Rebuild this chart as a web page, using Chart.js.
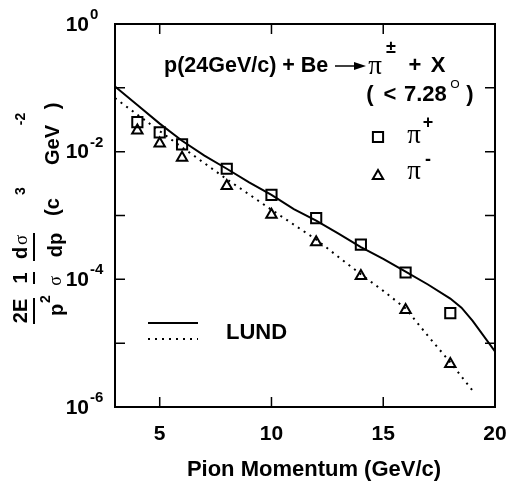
<!DOCTYPE html>
<html>
<head>
<meta charset="utf-8">
<script src="https://cdn.jsdelivr.net/npm/chart.js@4.4.1/dist/chart.umd.min.js"></script>
<style>
  html, body { margin: 0; padding: 0; background: #fff; }
  #wrap { width: 507px; height: 481px; }
</style>
</head>
<body>
<div id="wrap"><canvas id="c" width="507" height="481"></canvas></div>
<script>
// measured points (GeV/c, invariant cross section)
const momentum = [4, 5, 6, 8, 10, 12, 14, 16, 18]
const piPlus = [2.9e-2, 2.0e-2, 1.3e-2, 5.4e-3, 2.1e-3, 9.1e-4, 3.5e-4, 1.28e-4, 2.95e-5]
const piMinus = [2.15e-2, 1.34e-2, 8.0e-3, 2.9e-3, 1.03e-3, 3.8e-4, 1.13e-4, 3.3e-5, 4.7e-6]

// LUND curves
const lundPlusX = [3, 4, 5, 6, 7, 8, 9, 10, 11, 12, 13, 14, 15, 16, 17, 18, 18.5, 19, 20]
const lundPlus = [1.05e-1, 5.4e-2, 2.75e-2, 1.48e-2, 8.7e-3, 5.4e-3, 3.3e-3, 2.1e-3, 1.26e-3, 8.3e-4,
    5.2e-4, 3.2e-4, 2.1e-4, 1.32e-4, 8.3e-5, 5.0e-5, 3.6e-5, 2.24e-5, 7.4e-6]
const lundMinusX = [3, 4, 5, 6, 7, 8, 9, 10, 11, 12, 13, 14, 15, 16, 17, 18, 19]
const lundMinus = [6.9e-2, 3.8e-2, 2.1e-2, 1.17e-2, 6.6e-3, 3.7e-3, 2.14e-3, 1.23e-3, 7.2e-4, 4.2e-4,
    2.24e-4, 1.2e-4, 6.6e-5, 3.5e-5, 1.3e-5, 5.0e-6, 1.8e-6]

const xTicks = [5, 10, 15, 20]
const yDecades = [0, -1, -2, -3, -4, -5, -6]
const yLabelDecades = [0, -2, -4, -6]

const SANS = '"Liberation Sans", Arial, sans-serif'
const SERIF = '"Liberation Serif", "DejaVu Serif", serif'
const BOLD = 'bold 22px ' + SANS

const pts = (xs, ys) => xs.map((x, i) => ({ x, y: ys[i] }))

function txt(ctx, s, x, y, font, align = 'center') {
    ctx.font = font
    ctx.textAlign = align
    ctx.textBaseline = 'middle'
    ctx.fillText(s, x, y)
}

// rotated text, centred at screen point (x, y), reading upward
function rtxt(ctx, s, x, y, font) {
    ctx.save()
    ctx.translate(x, y)
    ctx.rotate(-Math.PI / 2)
    txt(ctx, s, 0, 0, font)
    ctx.restore()
}

const decorations = {
    id: 'decorations',
    afterDraw(chart) {
        const { ctx, chartArea: a, scales: { x, y } } = chart
        ctx.save()
        ctx.fillStyle = '#000'
        ctx.strokeStyle = '#000'

        // frame
        ctx.lineWidth = 2
        ctx.strokeRect(a.left, a.top, a.right - a.left, a.bottom - a.top)

        // inward ticks
        ctx.lineWidth = 1.5
        ctx.beginPath()
        xTicks.forEach(v => {
            const px = x.getPixelForValue(v)
            ctx.moveTo(px, a.bottom); ctx.lineTo(px, a.bottom - 10)
            ctx.moveTo(px, a.top); ctx.lineTo(px, a.top + 10)
        })
        yDecades.forEach(d => {
            const py = y.getPixelForValue(Math.pow(10, d))
            ctx.moveTo(a.left, py); ctx.lineTo(a.left + 10, py)
            ctx.moveTo(a.right, py); ctx.lineTo(a.right - 10, py)
        })
        ctx.stroke()

        // tick labels
        xTicks.forEach(v => txt(ctx, String(v), x.getPixelForValue(v), 434, 'bold 21px ' + SANS))
        yLabelDecades.forEach(d => {
            const py = y.getPixelForValue(Math.pow(10, d))
            txt(ctx, '10', 89, py + 1, 'bold 21px ' + SANS, 'right')
            txt(ctx, String(d), 90, py - 9, 'bold 15px ' + SANS, 'left')
        })

        // x title
        txt(ctx, 'Pion Momentum (GeV/c)', 314, 470, BOLD)

        // y title
        const f18 = 'bold 20px ' + SANS
        const f13 = 'bold 14px ' + SANS
        ctx.lineWidth = 2
        ctx.beginPath()
        ctx.moveTo(34, 298); ctx.lineTo(34, 324)
        ctx.moveTo(34, 272); ctx.lineTo(34, 284)
        ctx.moveTo(34, 233); ctx.lineTo(34, 261)
        ctx.stroke()
        rtxt(ctx, '2E', 21, 311, f18)
        rtxt(ctx, 'p', 57, 310, f18)
        rtxt(ctx, '2', 46, 299, f13)
        rtxt(ctx, '1', 21, 278, f18)
        rtxt(ctx, 'σ', 56, 281, '18px ' + SERIF)
        rtxt(ctx, 'd', 21, 253, f18)
        rtxt(ctx, 'σ', 22, 240, '19px ' + SERIF)
        rtxt(ctx, 'dp', 56, 245, f18)
        rtxt(ctx, '(c', 53, 207, f18)
        rtxt(ctx, '3', 21, 191, f13)
        rtxt(ctx, 'GeV', 53, 145, f18)
        rtxt(ctx, '-2', 21, 119, f13)
        rtxt(ctx, ')', 53, 106, f18)

        // reaction label
        txt(ctx, 'p(24GeV/c) + Be', 164, 66, 'bold 21.5px ' + SANS, 'left')
        ctx.lineWidth = 1.5
        ctx.beginPath(); ctx.moveTo(335, 66); ctx.lineTo(356, 66); ctx.stroke()
        ctx.beginPath(); ctx.moveTo(366, 66); ctx.lineTo(354, 62); ctx.lineTo(354, 70); ctx.closePath(); ctx.fill()
        txt(ctx, 'π', 375, 67, '27px ' + SERIF)
        txt(ctx, '±', 391, 48, 'bold 18px ' + SANS)
        txt(ctx, '+', 415, 66, BOLD)
        txt(ctx, 'X', 438, 66, BOLD)
        txt(ctx, '(', 370, 95, BOLD)
        txt(ctx, '<', 390, 95, BOLD)
        txt(ctx, '7.28', 404, 95, BOLD, 'left')
        ctx.lineWidth = 1.2
        ctx.beginPath(); ctx.arc(455, 84, 3.5, 0, Math.PI * 2); ctx.stroke()
        txt(ctx, ')', 470, 95, BOLD)

        // marker legend
        ctx.lineWidth = 2
        ctx.fillStyle = 'rgba(0,0,0,0)'
        Chart.helpers.drawPoint(ctx, { pointStyle: 'rect', radius: 7.2, borderWidth: 2 }, 378, 137)
        Chart.helpers.drawPoint(ctx, { pointStyle: 'triangle', radius: 6, borderWidth: 2 }, 378, 176)
        ctx.fillStyle = '#000'
        txt(ctx, 'π', 414, 136, '27px ' + SERIF)
        txt(ctx, '+', 428, 123, 'bold 18px ' + SANS)
        txt(ctx, 'π', 414, 172, '27px ' + SERIF)
        txt(ctx, '-', 428, 160, 'bold 18px ' + SANS)

        // LUND legend
        ctx.lineWidth = 2
        ctx.beginPath(); ctx.moveTo(148, 323); ctx.lineTo(198, 323); ctx.stroke()
        ctx.setLineDash([2, 5])
        ctx.beginPath(); ctx.moveTo(148, 339); ctx.lineTo(198, 339); ctx.stroke()
        ctx.setLineDash([])
        txt(ctx, 'LUND', 226, 333, BOLD, 'left')

        ctx.restore()
    }
}

new Chart(document.getElementById('c'), {
    type: 'scatter',
    data: {
        datasets: [
            {
                label: 'LUND pi+', data: pts(lundPlusX, lundPlus), showLine: true,
                borderColor: '#000', borderWidth: 2, pointRadius: 0, tension: 0,
            },
            {
                label: 'LUND pi-', data: pts(lundMinusX, lundMinus), showLine: true,
                borderColor: '#000', borderWidth: 2, borderDash: [2, 5], pointRadius: 0, tension: 0,
            },
            {
                label: 'pi+', data: pts(momentum, piPlus), pointStyle: 'rect', pointRadius: 7.2,
                borderColor: '#000', backgroundColor: 'rgba(0,0,0,0)', pointBorderWidth: 2,
            },
            {
                label: 'pi-', data: pts(momentum, piMinus), pointStyle: 'triangle', pointRadius: 6,
                borderColor: '#000', backgroundColor: 'rgba(0,0,0,0)', pointBorderWidth: 2,
            },
        ]
    },
    options: {
        responsive: false,
        animation: false,
        layout: { padding: { left: 115, top: 24, right: 12, bottom: 74 } },
        plugins: { legend: { display: false }, tooltip: { enabled: false } },
        scales: {
            x: { type: 'linear', min: 3, max: 20, display: false },
            y: { type: 'logarithmic', min: 1e-6, max: 1, display: false },
        },
    },
    plugins: [decorations],
})
</script>
</body>
</html>
